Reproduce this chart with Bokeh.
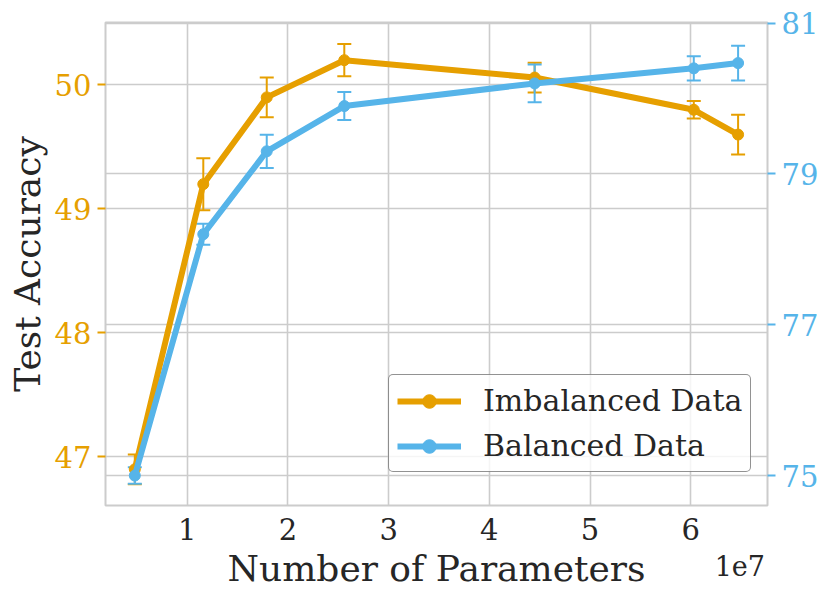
from bokeh.plotting import figure
from bokeh.models import (Range1d, LinearAxis, FixedTicker, Grid, Whisker, TeeHead,
                          ColumnDataSource, Legend, LegendItem)
from bokeh.embed import file_html
from bokeh.resources import INLINE

# ---- data ----
params = [0.48e7, 1.16e7, 1.79e7, 2.56e7, 4.45e7, 6.03e7, 6.47e7]
imb_acc = [46.90, 49.20, 49.90, 50.20, 50.06, 49.80, 49.60]
imb_err = [0.12, 0.21, 0.16, 0.13, 0.12, 0.07, 0.16]
bal_acc = [75.00, 78.20, 79.30, 79.90, 80.20, 80.40, 80.47]
bal_err = [0.11, 0.14, 0.22, 0.185, 0.25, 0.16, 0.23]
x_ticks = [1e7, 2e7, 3e7, 4e7, 5e7, 6e7]
x_tick_labels = ["1", "2", "3", "4", "5", "6"]
x_offset_text = "1e7"
left_ticks = [47, 48, 49, 50]
right_ticks = [75, 77, 79, 81]
series_names = ["Imbalanced Data", "Balanced Data"]

ORANGE = "#E69F00"
BLUE = "#56B4E9"
TXT = "#262626"
GRID = "#cccccc"
FONT = "DejaVu Serif"

p = figure(width=830, height=601, output_backend="svg", toolbar_location=None,
           x_range=Range1d(1.89e6, 6.762e7), y_range=Range1d(46.608, 50.504),
           min_border_left=105, min_border_right=63, min_border_top=22, min_border_bottom=96)
p.extra_y_ranges = {"right": Range1d(74.603, 81.008)}
p.background_fill_color = "white"
p.border_fill_color = "white"
p.outline_line_color = GRID
p.outline_line_width = 2

# grids
p.xgrid.ticker = FixedTicker(ticks=x_ticks)
p.ygrid.ticker = FixedTicker(ticks=left_ticks)
for g in (p.xgrid[0], p.ygrid[0]):
    g.grid_line_color = GRID
    g.grid_line_width = 1.6
p.add_layout(Grid(dimension=1, ticker=FixedTicker(ticks=right_ticks), y_range_name="right",
                  grid_line_color=GRID, grid_line_width=1.6))

# x axis (tick labels)
xa = p.xaxis[0]
xa.ticker = FixedTicker(ticks=x_ticks)
xa.major_label_overrides = {t: l for t, l in zip(x_ticks, x_tick_labels)}
xa.axis_line_color = None
xa.major_tick_line_color = None
xa.minor_tick_line_color = None
xa.major_tick_out = 0
xa.major_label_standoff = 12
xa.major_label_text_font = FONT
xa.major_label_text_font_size = "29px"
xa.major_label_text_color = TXT

# second x axis: offset text "1e7" and axis title on the same row
off_pos = 6.487e7
xb = LinearAxis(ticker=FixedTicker(ticks=[off_pos]))
xb.major_label_overrides = {off_pos: x_offset_text}
xb.axis_line_color = None
xb.major_tick_line_color = None
xb.minor_tick_line_color = None
xb.major_tick_out = 0
xb.major_tick_in = 0
xb.major_label_standoff = 12
xb.major_label_text_font = FONT
xb.major_label_text_font_size = "27px"
xb.major_label_text_color = TXT
xb.axis_label = "Number of Parameters"
xb.axis_label_standoff = -31
xb.axis_label_text_font = FONT
xb.axis_label_text_font_size = "36px"
xb.axis_label_text_font_style = "normal"
xb.axis_label_text_color = TXT
p.add_layout(xb, "below")

# left y axis
ya = p.yaxis[0]
ya.ticker = FixedTicker(ticks=left_ticks)
ya.axis_label = "Test Accuracy"
ya.axis_line_color = None
ya.major_tick_line_color = ORANGE
ya.major_tick_line_width = 2
ya.major_tick_out = 8
ya.major_tick_in = 0
ya.minor_tick_line_color = None
ya.major_label_standoff = 6
ya.axis_label_standoff = 4
ya.major_label_text_font = FONT
ya.major_label_text_font_size = "29px"
ya.major_label_text_color = ORANGE
ya.axis_label_text_font = FONT
ya.axis_label_text_font_size = "36px"
ya.axis_label_text_font_style = "normal"
ya.axis_label_text_color = TXT

# right y axis
ra = LinearAxis(y_range_name="right", ticker=FixedTicker(ticks=right_ticks))
ra.axis_line_color = None
ra.major_tick_line_color = BLUE
ra.major_tick_line_width = 2
ra.major_tick_out = 8
ra.major_tick_in = 0
ra.minor_tick_line_color = None
ra.major_label_standoff = 6
ra.major_label_text_font = FONT
ra.major_label_text_font_size = "29px"
ra.major_label_text_color = BLUE
p.add_layout(ra, "right")

# data sources
src_i = ColumnDataSource(dict(x=params, y=imb_acc,
                              lo=[a - e for a, e in zip(imb_acc, imb_err)],
                              hi=[a + e for a, e in zip(imb_acc, imb_err)]))
src_b = ColumnDataSource(dict(x=params, y=bal_acc,
                              lo=[a - e for a, e in zip(bal_acc, bal_err)],
                              hi=[a + e for a, e in zip(bal_acc, bal_err)]))

# imbalanced (left axis)
li = p.line("x", "y", source=src_i, line_color=ORANGE, line_width=6)
si = p.scatter("x", "y", source=src_i, size=11, fill_color=ORANGE, line_color=ORANGE)
wi = Whisker(source=src_i, base="x", lower="lo", upper="hi", line_color=ORANGE, line_width=2,
             upper_head=TeeHead(size=14, line_color=ORANGE, line_width=2),
             lower_head=TeeHead(size=14, line_color=ORANGE, line_width=2))
p.add_layout(wi)

# balanced (right axis)
lb = p.line("x", "y", source=src_b, line_color=BLUE, line_width=6, y_range_name="right")
sb = p.scatter("x", "y", source=src_b, size=11, fill_color=BLUE, line_color=BLUE, y_range_name="right")
wb = Whisker(source=src_b, base="x", lower="lo", upper="hi", line_color=BLUE, line_width=2,
             y_range_name="right",
             upper_head=TeeHead(size=14, line_color=BLUE, line_width=2),
             lower_head=TeeHead(size=14, line_color=BLUE, line_width=2))
p.add_layout(wb)

legend = Legend(items=[LegendItem(label=series_names[0], renderers=[li, si]),
                       LegendItem(label=series_names[1], renderers=[lb, sb])],
                location=(283, 33))
legend.label_text_font = FONT
legend.label_text_font_size = "30px"
legend.label_text_color = TXT
legend.glyph_width = 64
legend.glyph_height = 34
legend.label_height = 34
legend.label_standoff = 22
legend.spacing = 10
legend.padding = 8
legend.margin = 0
legend.border_line_color = TXT
legend.border_line_width = 1.5
legend.border_radius = 5
legend.background_fill_color = "white"
legend.background_fill_alpha = 0.8
p.add_layout(legend, "center")

open("out.html", "w").write(file_html(p, INLINE))
